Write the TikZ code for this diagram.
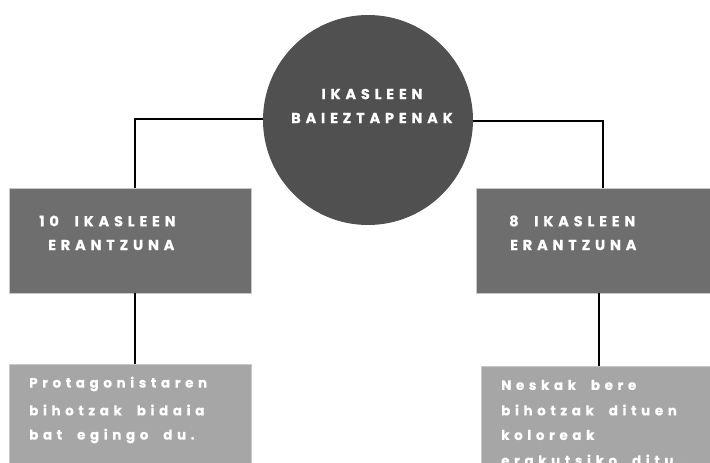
\documentclass[tikz,border=0pt]{standalone}
\usepackage{fontspec}
\newfontfamily\hfont{Poppins}[UprightFont=* Bold,LetterSpace=33,WordSpace=2,FakeBold=0.4]
\newfontfamily\bfont{Poppins}[UprightFont=* Bold,LetterSpace=34,WordSpace=2,FakeBold=0.4]
\definecolor{circlegray}{HTML}{505050}
\definecolor{boxgray}{HTML}{6E6E6E}
\definecolor{lightbox}{HTML}{A6A6A6}
\definecolor{edgegray}{HTML}{C8C8C8}
\begin{document}
\begin{tikzpicture}[x=1pt,y=-1pt,
  conn/.style={line width=2.2pt,black},
  upbox/.style={draw=edgegray,line width=0.6pt,fill=boxgray},
  lowbox/.style={draw=edgegray,line width=0.6pt,fill=lightbox},
  head/.style={text=white,font=\hfont\fontsize{14.5}{24}\selectfont,anchor=west,inner sep=0pt},
  body/.style={text=white,font=\bfont\fontsize{13.5}{25}\selectfont,anchor=west,inner sep=0pt}]
\useasboundingbox (0,0) rectangle (710,463);
\clip (0,0) rectangle (710,463);
% connectors
\coordinate (lc) at (135,119);
\coordinate (rc) at (603,121);
\node[circle,fill=circlegray,minimum size=210pt,inner sep=0pt] (top) at (368,120) {};
\node[upbox,minimum width=242pt,minimum height=105pt,inner sep=0pt] (lb) at (130,240.5) {};
\node[upbox,minimum width=240pt,minimum height=105pt,inner sep=0pt] (rb) at (596,240.5) {};
\node[lowbox,minimum width=242pt,minimum height=110pt,inner sep=0pt] (ll) at (130,419) {};
\node[lowbox,minimum width=235pt,minimum height=110pt,inner sep=0pt] (rl) at (598.5,421) {};
\draw[conn] (top.west |- lc) -- (lc) -- (lc |- lb.north);
\draw[conn] (top.east |- rc) -- (rc) -- (rc |- rb.north);
\draw[conn] (lb.south -| lc) -- (lc |- ll.north);
\draw[conn] (rb.south -| 599,0) -- (599,0 |- rl.north);
% texts
\node[text=white,font=\hfont\fontsize{14.5}{24}\selectfont,align=center,inner sep=0pt] (tt) at (372,106) {IKASLEEN\\BAIEZTAPENAK};
\node[head] (l1) at (39,221) {10 IKASLEEN};
\node[head] (l2) at (48,245) {ERANTZUNA};
\node[head] (r1) at (509,221) {8 IKASLEEN};
\node[head] (r2) at (510,245) {ERANTZUNA};
\node[body] (a1) at (29,384) {Protagonistaren};
\node[body] (a2) at (29,410) {bihotzak bidaia};
\node[body] (a3) at (29,436) {bat egingo du.};
\node[body] (b1) at (501,385) {Neskak bere};
\node[body] (b2) at (501,410) {bihotzak dituen};
\node[body] (b3) at (501,435) {koloreak};
\node[body] (b4) at (501,460) {erakutsiko ditu.};
\end{tikzpicture}
\end{document}
